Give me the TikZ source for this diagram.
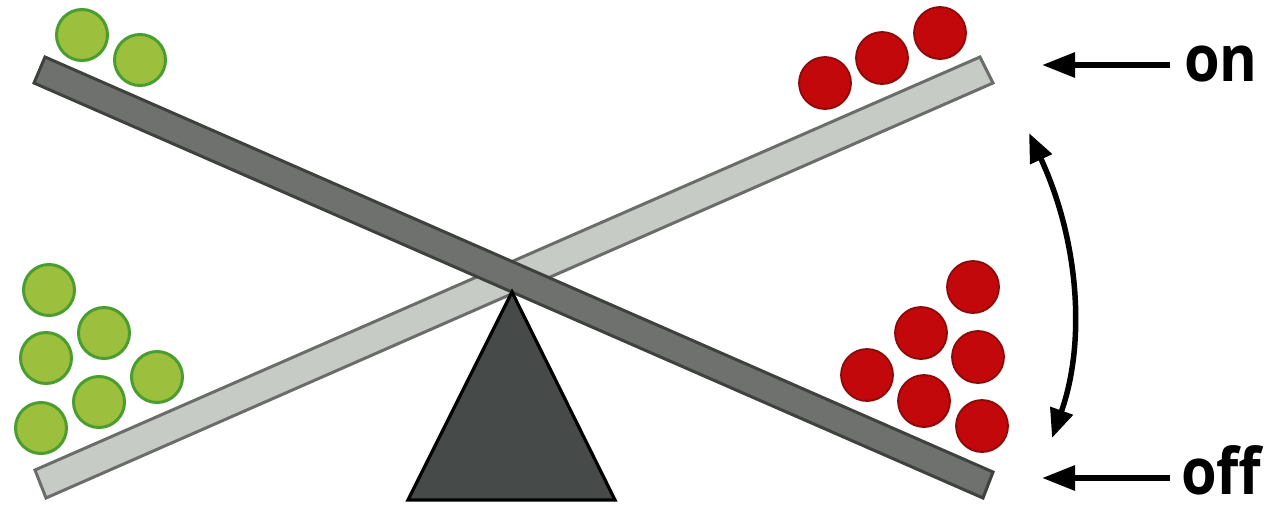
\documentclass[tikz,border=0pt]{standalone}
\usepackage{fontspec}
\usepackage{graphicx}
\newfontfamily\labelfont{Open Sans}
\usetikzlibrary{arrows.meta}
\definecolor{gfill}{HTML}{9CBF3E}
\definecolor{gline}{HTML}{4A9D2F}
\definecolor{rfill}{HTML}{C2080A}
\definecolor{rline}{HTML}{8A0A0A}
\definecolor{darkbar}{HTML}{6E716E}
\definecolor{darkbarline}{HTML}{3E413E}
\definecolor{lightbar}{HTML}{C6CBC6}
\definecolor{lightbarline}{HTML}{6A6D6A}
\definecolor{fulcrum}{HTML}{464A48}
\tikzset{
  gball/.style={circle, draw=gline, fill=gfill, line width=3pt, minimum size=51pt, inner sep=0pt},
  rball/.style={circle, draw=rline, fill=rfill, line width=1.8pt, minimum size=52pt, inner sep=0pt},
  barlight/.style={draw=lightbarline, fill=lightbar, line width=3pt, line join=miter},
  bardark/.style={draw=darkbarline, fill=darkbar, line width=3pt, line join=miter},
  fulcrumstyle/.style={draw=black, fill=fulcrum, line width=3.2pt, line join=miter},
  lbl/.style={font=\labelfont\bfseries\fontsize{64}{64}\selectfont, inner sep=0pt},
  straightarr/.style={line width=6pt, -{Triangle[length=33pt,width=24pt]}},
  curvearr/.style={line width=5.5pt, {Triangle[length=29pt,width=23pt]}-{Triangle[length=29pt,width=23pt]}}
}
\begin{document}
\begin{tikzpicture}[x=1pt,y=-1pt]
\useasboundingbox (0,0) rectangle (1279,504);
% light bar (rising to the right)
\draw[barlight] (35,470) -- (46,498) -- (993,83) -- (980,57) -- cycle;
% dark bar (falling to the right)
\draw[bardark] (45,57) -- (34,83) -- (983,498) -- (993,472) -- cycle;
% fulcrum
\draw[fulcrumstyle] (512,292) -- (408,500) -- (615,500) -- cycle;
% green balls, top left
\node[gball] (g1) at (82,35) {};
\node[gball] (g2) at (140,60) {};
% green balls, bottom left
\node[gball] (g3) at (49,290) {};
\node[gball] (g4) at (104,333) {};
\node[gball] (g5) at (46,358) {};
\node[gball] (g6) at (157,377) {};
\node[gball] (g7) at (99,402) {};
\node[gball] (g8) at (41,428) {};
% red balls, top right
\node[rball] (r1) at (825,83) {};
\node[rball] (r2) at (882,58) {};
\node[rball] (r3) at (940,33) {};
% red balls, bottom right
\node[rball] (r4) at (973,287) {};
\node[rball] (r5) at (921,333) {};
\node[rball] (r6) at (978,357) {};
\node[rball] (r7) at (867,375) {};
\node[rball] (r8) at (924,401) {};
\node[rball] (r9) at (982,426) {};
% labels
\node[lbl, anchor=base west] (on) at (1184,81) {\scalebox{0.9}[1]{on}};
\node[lbl, anchor=base west] (off) at (1181,494) {\scalebox{0.9}[1]{off}};
\coordinate (onTail) at (1170,65);
\coordinate (onTip) at (1042,65);
\coordinate (offTail) at (1170,478);
\coordinate (offTip) at (1042,478);
\draw[straightarr] (onTail) -- (onTip);
\draw[straightarr] (offTail) -- (offTip);
% curved double arrow
\coordinate (cTop) at (1029,133);
\coordinate (cBot) at (1052,438);
\draw[curvearr] (cTop) .. controls (1079,241) and (1086,342) .. (cBot);
\end{tikzpicture}
\end{document}
